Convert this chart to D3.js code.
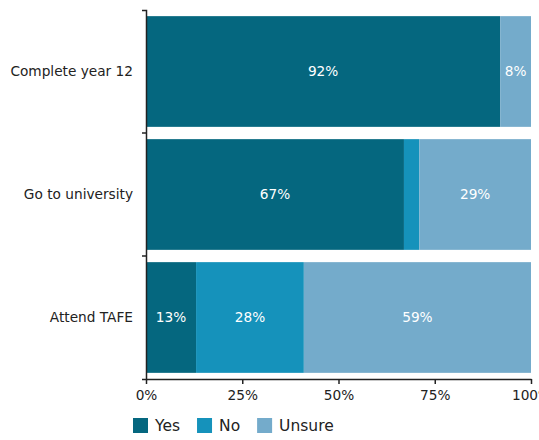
<!DOCTYPE html>
<html><head><meta charset="utf-8">
<script src="https://cdn.jsdelivr.net/npm/d3@7"></script>
<style>body{margin:0;background:#fff}svg{display:block;font-family:"DejaVu Sans",sans-serif}</style>
</head><body><svg id="c" width="539" height="440"></svg>
<script>
const categories = ["Complete year 12", "Go to university", "Attend TAFE"];
const seriesNames = ["Yes", "No", "Unsure"];
const yesValues = [92, 67, 13];
const noValues = [0, 4, 28];
const unsureValues = [8, 29, 59];
const colors = ["#05677f", "#1592bb", "#74abcb"];
const xTicks = [0, 25, 50, 75, 100];

const svg = d3.select("#c");
const m = {l:146, r:8, t:10, b:61};
const W = 539, H = 440;
const x = d3.scaleLinear().domain([0,100]).range([m.l, W - m.r]);
const y = d3.scaleBand().domain(categories).range([m.t, H - m.b]).paddingInner(0.1).paddingOuter(0.05);

const rows = categories.map((c,i)=>({cat:c, Yes:yesValues[i], No:noValues[i], Unsure:unsureValues[i]}));
const stack = d3.stack().keys(seriesNames)(rows);
const color = d3.scaleOrdinal().domain(seriesNames).range(colors);

const g = svg.append("g");
stack.forEach(s=>{
  g.selectAll(null).data(s).join("rect")
    .attr("x", d=>x(d[0])).attr("width", d=>x(d[1])-x(d[0]))
    .attr("y", d=>y(d.data.cat)).attr("height", y.bandwidth())
    .attr("fill", color(s.key));
  g.selectAll(null).data(s.filter(d=>d[1]-d[0] >= 5)).join("text")
    .attr("x", d=>(x(d[0])+x(d[1]))/2).attr("y", d=>y(d.data.cat)+y.bandwidth()/2)
    .attr("dy","0.35em").attr("text-anchor","middle").attr("fill","#fff")
    .attr("font-size", 13.7).text(d=>(d[1]-d[0])+"%");
});

// y axis
const yAxis = svg.append("g").attr("transform",`translate(${m.l},0)`)
  .call(d3.axisLeft(y).tickSize(0).tickPadding(13).tickSizeOuter(4));
yAxis.selectAll("text").attr("font-size",13.7).attr("fill","#222").attr("font-family","DejaVu Sans");
yAxis.select(".domain").attr("stroke","#222").attr("stroke-width",1.5);
const edges = categories.slice(1).map(c=>y(c) - y.step()*y.paddingInner()/2);
yAxis.selectAll(".edge").data(edges).join("line").attr("class","edge")
  .attr("x1",-4).attr("x2",0).attr("y1",d=>d).attr("y2",d=>d).attr("stroke","#222").attr("stroke-width",1.5);

// x axis
const xAxis = svg.append("g").attr("transform",`translate(0,${H-m.b})`)
  .call(d3.axisBottom(x).tickValues(xTicks).tickFormat(d=>d+"%").tickSize(5).tickSizeOuter(0).tickPadding(6));
xAxis.selectAll("text").attr("font-size",13.7).attr("fill","#222").attr("font-family","DejaVu Sans");
xAxis.selectAll("line,.domain").attr("stroke","#222").attr("stroke-width",1.5);

// legend
const lg = svg.append("g").attr("transform","translate(133,418)");
let lx = 0;
seriesNames.forEach((n,i)=>{
  const it = lg.append("g").attr("transform",`translate(${lx},0)`);
  it.append("rect").attr("width",15).attr("height",15).attr("fill",colors[i]);
  const t = it.append("text").attr("x",22).attr("y",7.5).attr("dy","0.36em").attr("font-size",15.5).attr("fill","#222").text(n);
  lx += 22 + t.node().getComputedTextLength() + 17;
});
</script></body></html>
